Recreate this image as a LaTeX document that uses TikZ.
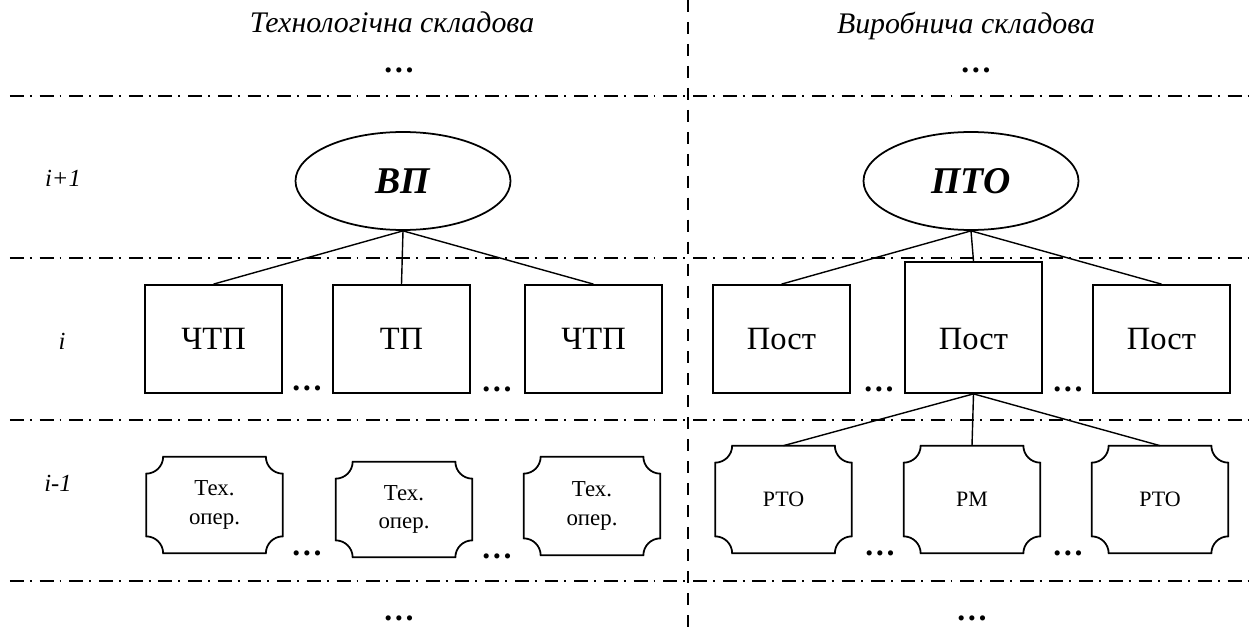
\documentclass[tikz,border=0pt]{standalone}
\usepackage{fontspec}
\setmainfont{Liberation Serif}
\usetikzlibrary{shapes.geometric}

\tikzset{
  level/.style={line width=1pt, dash pattern=on 7.9pt off 3.4pt on 1.1pt off 4.5pt},
  split/.style={line width=1pt, dash pattern=on 6.8pt off 5.7pt},
  goal/.style={ellipse, draw, line width=1pt, minimum width=4.3cm, minimum height=1.96cm, font=\fontsize{21.5}{25}\selectfont\bfseries\itshape},
  unit/.style={rectangle, draw, line width=1pt, minimum width=2.74cm, minimum height=2.16cm, font=\fontsize{18.5}{22}\selectfont},
  oper/.style={rectangle, minimum width=2.72cm, align=center, font=\fontsize{13}{16}\selectfont},
  lvl/.style={font=\fontsize{14}{16}\selectfont\itshape},
  part/.style={anchor=base, font=\fontsize{17}{20}\selectfont\itshape},
  more/.style={anchor=base, font=\fontsize{18}{20}\selectfont\bfseries},
  link/.style={line width=0.8pt},
}

\begin{document}
\begin{tikzpicture}
    \useasboundingbox (0,0) rectangle (25.06,-12.56);

    % levels
    \coordinate (l0) at (0.2,-1.92);
    \coordinate (l1) at (0.2,-5.16);
    \coordinate (l2) at (0.2,-8.4);
    \coordinate (l3) at (0.2,-11.62);
    \foreach \l in {l0,l1,l2,l3}
        \draw[level] (\l) -- ++(24.86,0);
    \coordinate (s0) at (13.76,0);
    \coordinate (s1) at (13.76,-12.56);
    \draw[split] (s0) -- (s1);

    \node[part] (tech) at (7.84,-0.66) {Технологічна складова};
    \node[part] (prod) at (19.32,-0.67) {Виробнича складова};
    \node[more] (tm1) at (7.98,-1.45) {…};
    \node[more] (tm2) at (19.52,-1.45) {…};
    \node[more] (bm1) at (7.98,-12.4) {…};
    \node[more] (bm2) at (19.44,-12.4) {…};

    \node[lvl] (up) at (1.26,-3.56) {i+1};
    \node[lvl] (mid) at (1.24,-6.82) {i};
    \node[lvl] (low) at (1.16,-9.66) {i-1};

    % level i+1
    \node[goal] (vp) at (8.06,-3.62) {ВП};
    \node[goal] (pto) at (19.42,-3.62) {ПТО};

    % level i
    \node[unit] (ctp1) at (4.27,-6.78) {ЧТП};
    \node[unit] (tp) at (8.03,-6.78) {ТП};
    \node[unit] (ctp2) at (11.87,-6.78) {ЧТП};
    \node[unit] (post1) at (15.63,-6.78) {Пост};
    \node[unit, minimum height=2.62cm, text height=0.89cm, text depth=0cm] (post2) at (19.47,-6.55) {Пост};
    \node[unit] (post3) at (23.23,-6.78) {Пост};
    \node[more] (m1) at (6.14,-7.8) {…};
    \node[more] (m2) at (9.94,-7.82) {…};
    \node[more] (m3) at (17.58,-7.82) {…};
    \node[more] (m4) at (21.36,-7.82) {…};

    % level i-1
    \node[oper, minimum height=1.92cm] (op1) at (4.29,-10.1) {Тех.\\опер.};
    \node[oper, minimum height=1.9cm] (op2) at (8.08,-10.19) {Тех.\\опер.};
    \node[oper, minimum height=1.96cm] (op3) at (11.84,-10.12) {Тех.\\опер.};
    \node[oper, minimum height=2.14cm, font=\fontsize{12.5}{15}\selectfont] (rto1) at (15.67,-9.99) {РТО};
    \node[oper, minimum height=2.14cm, font=\fontsize{12.5}{15}\selectfont] (rm) at (19.44,-9.99) {РМ};
    \node[oper, minimum height=2.14cm, font=\fontsize{12.5}{15}\selectfont] (rto2) at (23.2,-9.99) {РТО};
    \foreach \n in {op1,op2,op3,rto1,rm,rto2}
        \draw[line width=1pt] ([yshift=-0.34cm]\n.north west) arc[start angle=-90, end angle=0, radius=0.34cm]
        -- ([xshift=-0.34cm]\n.north east) arc[start angle=180, end angle=270, radius=0.34cm]
        -- ([yshift=0.34cm]\n.south east) arc[start angle=90, end angle=180, radius=0.34cm]
        -- ([xshift=0.34cm]\n.south west) arc[start angle=0, end angle=90, radius=0.34cm]
        -- cycle;
    \node[more] (n1) at (6.14,-11.1) {…};
    \node[more] (n2) at (9.94,-11.16) {…};
    \node[more] (n3) at (17.6,-11.1) {…};
    \node[more] (n4) at (21.36,-11.1) {…};

    % links
    \foreach \t in {ctp1,tp,ctp2}
        \draw[link] (vp.south) -- (\t.north);
    \foreach \t in {post1,post2,post3}
        \draw[link] (pto.south) -- (\t.north);
    \foreach \t in {rto1,rm,rto2}
        \draw[link] (post2.south) -- (\t.north);
\end{tikzpicture}
\end{document}
